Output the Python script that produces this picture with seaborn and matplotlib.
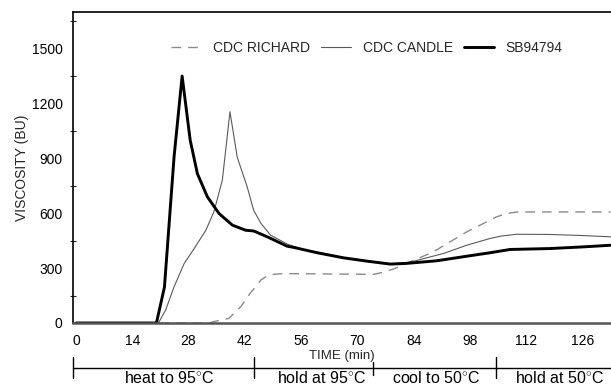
import matplotlib
matplotlib.use("Agg")
import matplotlib.pyplot as plt
import matplotlib.transforms as mtransforms
from matplotlib.ticker import MultipleLocator
import numpy as np
import pandas as pd
import seaborn as sns

# ---------------- data ----------------
richard_t = [0, 33, 34.3, 38, 41, 43.4, 44.7, 46, 47.6, 49.2, 51.7, 74, 76, 79,
             88.9, 97.2, 104.6, 107, 108.8, 110, 133]
richard_v = [0, 0, 8, 25, 89, 165, 198, 235, 258, 266, 270, 266, 275, 295,
             389, 498, 580, 598, 604, 607, 607]

candle_t = [0, 20.5, 22.3, 24.4, 26.9, 29.4, 32.3, 34.3, 36.4, 38.3, 40.1, 42.6,
            44.2, 46, 48.4, 52.5, 56, 60, 66.6, 72.4, 78.2, 82.3, 84.8, 91.4,
            97.2, 103, 106, 109.6, 117.9, 126.1, 133]
candle_v = [0, 0, 71, 198, 325, 407, 507, 607, 780, 1155, 907, 743,
            616, 545, 480, 432, 405, 388, 358, 340, 324, 330, 342, 380,
            425, 462, 476, 485, 484, 478, 471]

sb_t = [0, 20, 22, 24.4, 26.4, 28.4, 30.2, 32.7, 35.6, 38.9, 42.2, 44.2, 47.6,
        52.5, 54.2, 60, 66.6, 72.4, 78.2, 82.3, 89.7, 97.2, 103, 108, 117.9,
        126.1, 133]
sb_v = [0, 0, 196, 910, 1350, 1000, 816, 689, 598, 535, 507, 503, 471,
        420, 413, 384, 356, 338, 322, 326, 340, 365, 384, 402, 407,
        416, 425]

series_names = ["CDC RICHARD", "CDC CANDLE", "SB94794"]
x_ticks = [0, 14, 28, 42, 56, 70, 84, 98, 112, 126]
y_ticks = [0, 300, 600, 900, 1200, 1500]

phase_edges = [-0.75, 44.3, 73.9, 104.5]
phase_label_x = [23.1, 61.2, 89.6, 120.4]
phase_labels = ["heat to 95$^{\\circ}$C", "hold at 95$^{\\circ}$C",
                "cool to 50$^{\\circ}$C", "hold at 50$^{\\circ}$C"]

df = pd.concat([
    pd.DataFrame({"time": richard_t, "visc": richard_v, "variety": series_names[0]}),
    pd.DataFrame({"time": candle_t, "visc": candle_v, "variety": series_names[1]}),
    pd.DataFrame({"time": sb_t, "visc": sb_v, "variety": series_names[2]}),
])

# ---------------- style ----------------
sns.set_theme(style="white")
plt.rcParams["font.family"] = ["Liberation Sans", "DejaVu Sans"]
plt.rcParams["mathtext.fontset"] = "custom"
plt.rcParams["mathtext.rm"] = "Liberation Sans"

fig = plt.figure(figsize=(6.11, 3.85), dpi=100)
fig.patch.set_facecolor("white")
ax = fig.add_axes([73 / 611, 62 / 385, 538 / 611, 311 / 385])

styles = {
    "CDC RICHARD": dict(color="#8a8a8a", linewidth=1.0, dashes=(7, 5)),
    "CDC CANDLE": dict(color="#5a5a5a", linewidth=0.8),
    "SB94794": dict(color="black", linewidth=2.1),
}
for name in series_names:
    sub = df[df["variety"] == name]
    st = styles[name]
    line_kw = dict(color=st["color"], linewidth=st["linewidth"])
    sns.lineplot(data=sub, x="time", y="visc", ax=ax, label=name,
                 estimator=None, sort=False, **line_kw)
    if "dashes" in st:
        ax.lines[-1].set_dashes(st["dashes"])

ax.set_xlim(-0.75, 133.1)
ax.set_ylim(0, 1700)
ax.set_xticks(x_ticks)
ax.set_yticks(y_ticks)
ax.yaxis.set_minor_locator(MultipleLocator(150))
ax.tick_params(axis="x", length=0, pad=8, labelsize=10, colors="black")
ax.tick_params(axis="y", which="major", direction="inout", length=9, width=0.8,
               pad=3, labelsize=10, colors="black")
ax.tick_params(axis="y", which="minor", direction="inout", length=4, width=0.8,
               left=True)

ax.set_xlabel("TIME (min)", fontsize=9.5, labelpad=1)
ax.set_ylabel("VISCOSITY (BU)", fontsize=10, labelpad=2)

for s in ["left", "top"]:
    ax.spines[s].set_color("black")
    ax.spines[s].set_linewidth(1.2)
ax.spines["bottom"].set_color("#555555")
ax.spines["bottom"].set_linewidth(1.8)
ax.spines["right"].set_visible(False)

leg = ax.legend(loc="center", bbox_to_anchor=(0.546, 0.884), ncol=3,
                frameon=False, fontsize=10, handlelength=2.2,
                handletextpad=0.8, columnspacing=0.8)

# phase bar below the axis
trans = mtransforms.blended_transform_factory(ax.transData, ax.transAxes)
y_line = -45 / 311
ax.plot([-0.75, 133.1], [y_line, y_line], transform=trans, color="black",
        linewidth=1.0, clip_on=False)
for i, e in enumerate(phase_edges):
    y0, y1 = (-34 / 311, -55 / 311) if i != 2 else (-39 / 311, -52 / 311)
    ax.plot([e, e], [y0, y1], transform=trans, color="black", linewidth=1.0,
            clip_on=False)
for xl, lab in zip(phase_label_x, phase_labels):
    ax.text(xl, -47 / 311, lab, transform=trans, ha="center", va="top",
            fontsize=11.5, color="black", clip_on=False)

fig.savefig("out.png", dpi=100, facecolor="white")
